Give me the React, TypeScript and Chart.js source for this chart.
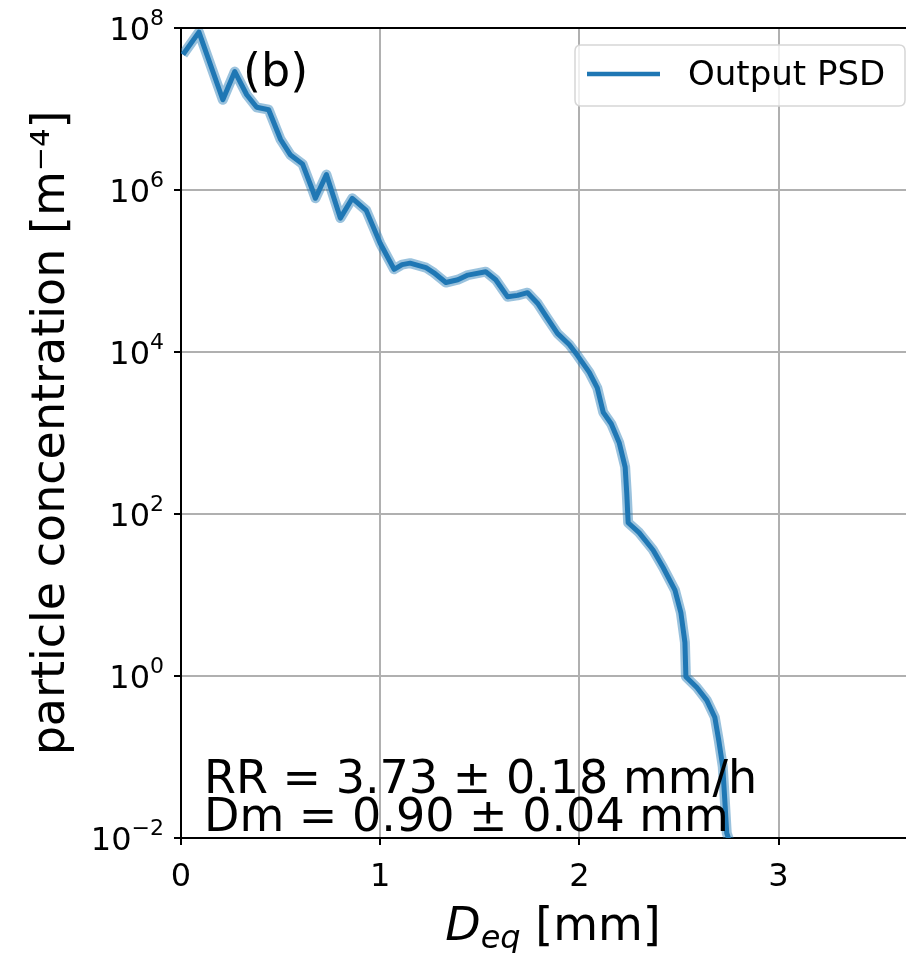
import React, { useEffect, useRef } from "react";
import { Chart, registerables } from "chart.js";

Chart.register(...registerables);

const dEq = [
  0.01, 0.09, 0.21, 0.27, 0.33, 0.38, 0.44, 0.5, 0.55, 0.61, 0.66, 0.675, 0.73, 0.8, 0.86, 0.93,
  1.0, 1.07, 1.11, 1.15, 1.23, 1.27, 1.33, 1.39, 1.44, 1.53, 1.58, 1.64, 1.69, 1.74, 1.79, 1.84,
  1.89, 1.95, 1.99, 2.05, 2.09, 2.12, 2.16, 2.2, 2.23, 2.238, 2.245, 2.3, 2.37, 2.42, 2.48, 2.51,
  2.53, 2.535, 2.59, 2.64, 2.68, 2.7, 2.72, 2.73, 2.74, 2.79,
];
const psd = [
  4.7e7, 8.9e7, 1.3e7, 2.9e7, 1.5e7, 1.05e7, 9.8e6, 4.2e6, 2.7e6, 2.1e6, 1.0e6, 7.9e5, 1.55e6,
  4.5e5, 7.9e5, 5.6e5, 2.2e5, 1.05e5, 1.2e5, 1.25e5, 1.1e5, 9.5e4, 7.2e4, 7.8e4, 8.9e4, 9.8e4,
  7.8e4, 4.8e4, 5.0e4, 5.4e4, 4.0e4, 2.6e4, 1.7e4, 1.23e4, 9.1e3, 5.6e3, 3.6e3, 1.8e3, 1.3e3,
  760, 380, 180, 78, 59, 36, 22, 11.5, 6.0, 2.6, 0.98, 0.72, 0.5, 0.31, 0.16, 0.076, 0.03,
  0.0115, 0.005,
];
const xTickValues = [0, 1, 2, 3];
const yTickValues = [1e-2, 1, 1e2, 1e4, 1e6, 1e8];
const yTickExponents = ["\u22122", "0", "2", "4", "6", "8"];
const seriesLabel = "Output PSD";
const panelLabel = "(b)";
const annotationLines = ["RR = 3.73 ± 0.18 mm/h", "Dm = 0.90 ± 0.04 mm"];
const yTitle = "particle concentration [m⁻⁴]";

const FONT = "'DejaVu Sans', sans-serif";
const BLUE = "#1f77b4";

export default function App() {
  const ref = useRef<HTMLCanvasElement | null>(null);

  useEffect(() => {
    const canvas = ref.current;
    if (!canvas) return;
    const points = dEq.map((x, i) => ({ x, y: psd[i] }));

    const overlay = {
      id: "overlay",
      afterDraw(chart: any) {
        const ctx = chart.ctx;
        const a = chart.chartArea;
        ctx.save();
        // top spine
        ctx.strokeStyle = "#000";
        ctx.lineWidth = 2;
        ctx.beginPath();
        ctx.moveTo(a.left, a.top);
        ctx.lineTo(a.right, a.top);
        ctx.stroke();

        // y tick labels (10 with superscript exponent)
        ctx.fillStyle = "#000";
        ctx.textBaseline = "alphabetic";
        ctx.textAlign = "left";
        const yScale = chart.scales.y;
        yTickValues.forEach((v, i) => {
          const py = yScale.getPixelForValue(v);
          ctx.font = `22px ${FONT}`;
          const ew = ctx.measureText(yTickExponents[i]).width;
          ctx.font = `32px ${FONT}`;
          const bw = ctx.measureText("10").width;
          const right = 164;
          const bx = right - ew - bw;
          ctx.fillText("10", bx, py + 12);
          ctx.font = `22px ${FONT}`;
          ctx.fillText(yTickExponents[i], bx + bw, py - 3);
        });

        ctx.font = `46px ${FONT}`;
        ctx.fillText(panelLabel, 243, 86);
        ctx.fillText(annotationLines[0], 204, 793);
        ctx.fillText(annotationLines[1], 204, 831);

        // x title: D_eq [mm]
        ctx.font = `italic 46px ${FONT}`;
        const dW = ctx.measureText("D").width;
        ctx.font = `italic 32px ${FONT}`;
        const eqW = ctx.measureText("eq").width;
        ctx.font = `46px ${FONT}`;
        const restW = ctx.measureText(" [mm]").width;
        const total = dW + eqW + restW;
        const x0 = 553 - total / 2;
        const base = 940;
        ctx.font = `italic 46px ${FONT}`;
        ctx.fillText("D", x0, base);
        ctx.font = `italic 32px ${FONT}`;
        ctx.fillText("eq", x0 + dW, base + 8);
        ctx.font = `46px ${FONT}`;
        ctx.fillText(" [mm]", x0 + dW + eqW, base);

        // y title
        ctx.save();
        ctx.translate(52, (a.top + a.bottom) / 2);
        ctx.rotate(-Math.PI / 2);
        ctx.textAlign = "center";
        ctx.textBaseline = "middle";
        ctx.font = `46px ${FONT}`;
        ctx.fillText(yTitle, 0, 0);
        ctx.restore();

        // legend
        const lx = 575, ly = 45, lw = 330, lh = 61, r = 6;
        ctx.beginPath();
        ctx.moveTo(lx + r, ly);
        ctx.lineTo(lx + lw - r, ly);
        ctx.quadraticCurveTo(lx + lw, ly, lx + lw, ly + r);
        ctx.lineTo(lx + lw, ly + lh - r);
        ctx.quadraticCurveTo(lx + lw, ly + lh, lx + lw - r, ly + lh);
        ctx.lineTo(lx + r, ly + lh);
        ctx.quadraticCurveTo(lx, ly + lh, lx, ly + lh - r);
        ctx.lineTo(lx, ly + r);
        ctx.quadraticCurveTo(lx, ly, lx + r, ly);
        ctx.closePath();
        ctx.fillStyle = "rgba(255,255,255,0.8)";
        ctx.fill();
        ctx.strokeStyle = "#d6d6d6";
        ctx.lineWidth = 1.5;
        ctx.stroke();
        ctx.strokeStyle = BLUE;
        ctx.lineWidth = 4.5;
        ctx.beginPath();
        ctx.moveTo(587, 74);
        ctx.lineTo(660, 74);
        ctx.stroke();
        ctx.fillStyle = "#000";
        ctx.textAlign = "left";
        ctx.textBaseline = "middle";
        ctx.font = `34px ${FONT}`;
        ctx.fillText(seriesLabel, 688, 76);
        ctx.restore();
      },
    };

    const chart = new Chart(canvas, {
      type: "line",
      data: {
        datasets: [
          {
            label: seriesLabel,
            data: points,
            borderColor: BLUE,
            borderWidth: 5,
            pointRadius: 0,
            tension: 0,
            borderJoinStyle: "round",
            order: 1,
          },
          {
            label: "band",
            data: points,
            borderColor: "rgba(31,119,180,0.45)",
            borderWidth: 10,
            pointRadius: 0,
            tension: 0,
            borderJoinStyle: "round",
            order: 2,
          },
        ],
      },
      options: {
        animation: false,
        responsive: false,
        layout: { padding: { top: 28, left: 0, right: 0, bottom: 0 } },
        plugins: { legend: { display: false }, tooltip: { enabled: false } },
        scales: {
          x: {
            type: "linear",
            min: 0,
            max: 3.64,
            afterFit(scale: any) {
              scale.height = 115;
            },
            afterBuildTicks(scale: any) {
              scale.ticks = xTickValues.map((v) => ({ value: v }));
            },
            ticks: {
              color: "#000",
              font: { family: FONT, size: 32 },
              padding: 13,
              maxRotation: 0,
              callback: (v: any) => String(v),
            },
            grid: {
              color: "#b0b0b0",
              lineWidth: 2,
              tickLength: 7,
              tickColor: "#000",
              tickWidth: 2,
            },
            border: { display: true, color: "#000", width: 2 },
          },
          y: {
            type: "logarithmic",
            min: 1e-2,
            max: 1e8,
            afterFit(scale: any) {
              scale.width = 181;
            },
            afterBuildTicks(scale: any) {
              scale.ticks = yTickValues.map((v) => ({ value: v, major: true }));
            },
            ticks: {
              color: "#000",
              font: { family: FONT, size: 29 },
              padding: 10,
              autoSkip: false,
              callback: () => "",
            },
            grid: {
              color: "#b0b0b0",
              lineWidth: 2,
              tickLength: 7,
              tickColor: "#000",
              tickWidth: 2,
            },
            border: { display: true, color: "#000", width: 2 },
          },
        },
      },
      plugins: [overlay],
    });
    return () => chart.destroy();
  }, []);

  return (
    <div style={{ position: "absolute", left: 0, top: 0, width: 906, height: 953, background: "#fff" }}>
      <canvas ref={ref} width={906} height={953} style={{ display: "block" }} />
    </div>
  );
}
